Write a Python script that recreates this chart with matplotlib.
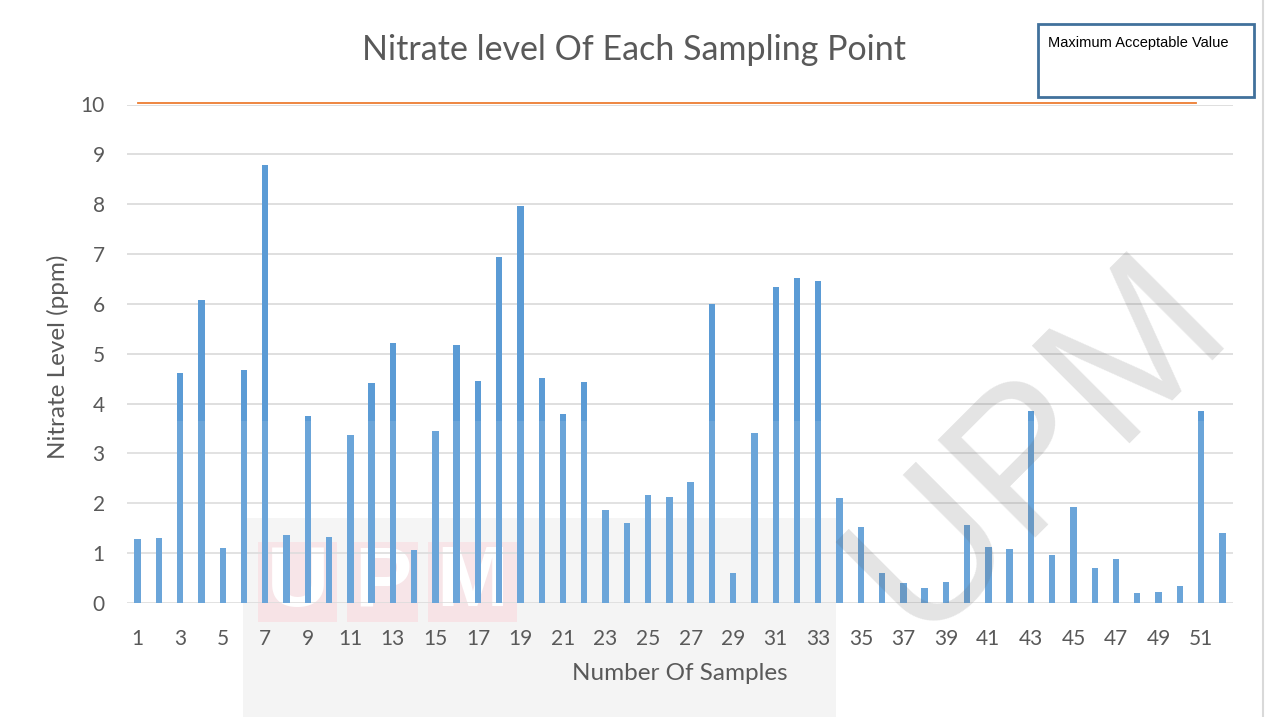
import matplotlib
matplotlib.use("Agg")
import matplotlib.pyplot as plt
from matplotlib.patches import Rectangle
from matplotlib.lines import Line2D

# ---------------- data ----------------
samples = list(range(1, 53))
nitrate = [1.29, 1.31, 4.61, 6.08, 1.10, 4.67, 8.79, 1.36, 3.76, 1.33,
           3.37, 4.42, 5.22, 1.07, 3.45, 5.17, 4.45, 6.94, 7.96, 4.51,
           3.80, 4.44, 1.86, 1.61, 2.17, 2.13, 2.43, 5.99, 0.60, 3.42,
           6.33, 6.51, 6.45, 2.11, 1.52, 0.60, 0.40, 0.30, 0.43, 1.56,
           1.13, 1.08, 3.85, 0.96, 1.93, 0.70, 0.89, 0.20, 0.22, 0.34,
           3.85, 1.40]
limit_x = [1, 50.75]
limit_y = [10.04, 10.04]
yticks = list(range(0, 11))
xticks = samples[::2]

title = "Nitrate level Of Each Sampling Point"
xlabel = "Number Of Samples"
ylabel = "Nitrate Level (ppm)"
legend_text = "Maximum Acceptable Value"
logo_letters = ["U", "P", "M"]

# ---------------- figure ----------------
W, H = 1270, 717
fig = plt.figure(figsize=(W / 100, H / 100), dpi=100)
fig.patch.set_facecolor("white")


def fx(px):
    return px / W


def fy(py):
    return 1 - py / H


FONT = ["Lato", "DejaVu Sans"]
TXT = "#595959"

# faint logo watermark background (behind the chart)
fig.patches.append(Rectangle((fx(243), 0), fx(836) - fx(243), fy(518), transform=fig.transFigure,
                             facecolor="#f4f4f4", edgecolor="none", zorder=-3))
blocks = [(258, 337), (347, 418), (428, 517)]
for (x0, x1), letter in zip(blocks, logo_letters):
    fig.patches.append(Rectangle((fx(x0), fy(622)), fx(x1) - fx(x0), fy(542) - fy(622),
                                 transform=fig.transFigure, facecolor="#f7e3e6",
                                 edgecolor="none", zorder=-2))
    fig.text(fx((x0 + x1) / 2), fy(584), letter, ha="center", va="center", fontsize=62,
             fontweight="bold", family="Liberation Sans", color="white", zorder=-1)

ax = fig.add_axes([fx(127), fy(603), fx(1233) - fx(127), fy(104.5) - fy(603)])
ax.set_facecolor("none")
ax.set_zorder(1)
ax.bar(samples, nitrate, width=0.3, color="#5B9BD5", zorder=2)
# lighter overlay band of the page scan
ax.add_patch(Rectangle((0, 0), 1, 3.65 / 10, transform=ax.transAxes, facecolor="white",
                       alpha=0.1, edgecolor="none", zorder=3))
ax.plot(limit_x, limit_y, color="#ED7D31", lw=1.3, zorder=4, clip_on=False)

ax.set_xlim(0.5, 52.5)
ax.set_ylim(0, 10)
ax.set_yticks(yticks)
ax.set_xticks(xticks)
ax.set_xticklabels([str(v) for v in xticks])
ax.grid(axis="y", color="#d9d9d9", lw=1.2, zorder=0)
ax.set_axisbelow(True)
for s in ax.spines.values():
    s.set_visible(False)
ax.tick_params(axis="both", length=0, labelsize=15, labelcolor=TXT)
ax.tick_params(axis="x", pad=19)
ax.tick_params(axis="y", pad=16)
for lab in ax.get_xticklabels() + ax.get_yticklabels():
    lab.set_family(FONT)

fig.text(fx(634.5), fy(50), title, ha="center", va="center", fontsize=24.5, color=TXT,
         family=FONT, zorder=5)
fig.text(fx(680), fy(674), xlabel, ha="center", va="center", fontsize=17.5, color=TXT,
         family=FONT, zorder=5)
fig.text(fx(58), fy(357), ylabel, ha="center", va="center", rotation=90, fontsize=17.5,
         color=TXT, family=FONT, zorder=5)

# legend-like text box
fig.patches.append(Rectangle((fx(1038), fy(97)), fx(1254) - fx(1038), fy(24) - fy(97),
                             transform=fig.transFigure, facecolor="white",
                             edgecolor="#41719C", lw=2, zorder=5))
fig.text(fx(1048), fy(43), legend_text, ha="left", va="center", fontsize=10.5,
         color="black", family=["Liberation Sans", "DejaVu Sans"], zorder=6)

# right border of chart area
fig.add_artist(Line2D([fx(1263), fx(1263)], [0, 1], transform=fig.transFigure,
                      color="#d9d9d9", lw=1.5, zorder=5))

# diagonal page watermark
fig.text(fx(1232), fy(326), "UPM", rotation=45, rotation_mode="anchor",
         ha="right", va="baseline", fontsize=144, family="Liberation Sans",
         color="#666666", alpha=0.18, zorder=10)

fig.savefig("out.png", dpi=100)
